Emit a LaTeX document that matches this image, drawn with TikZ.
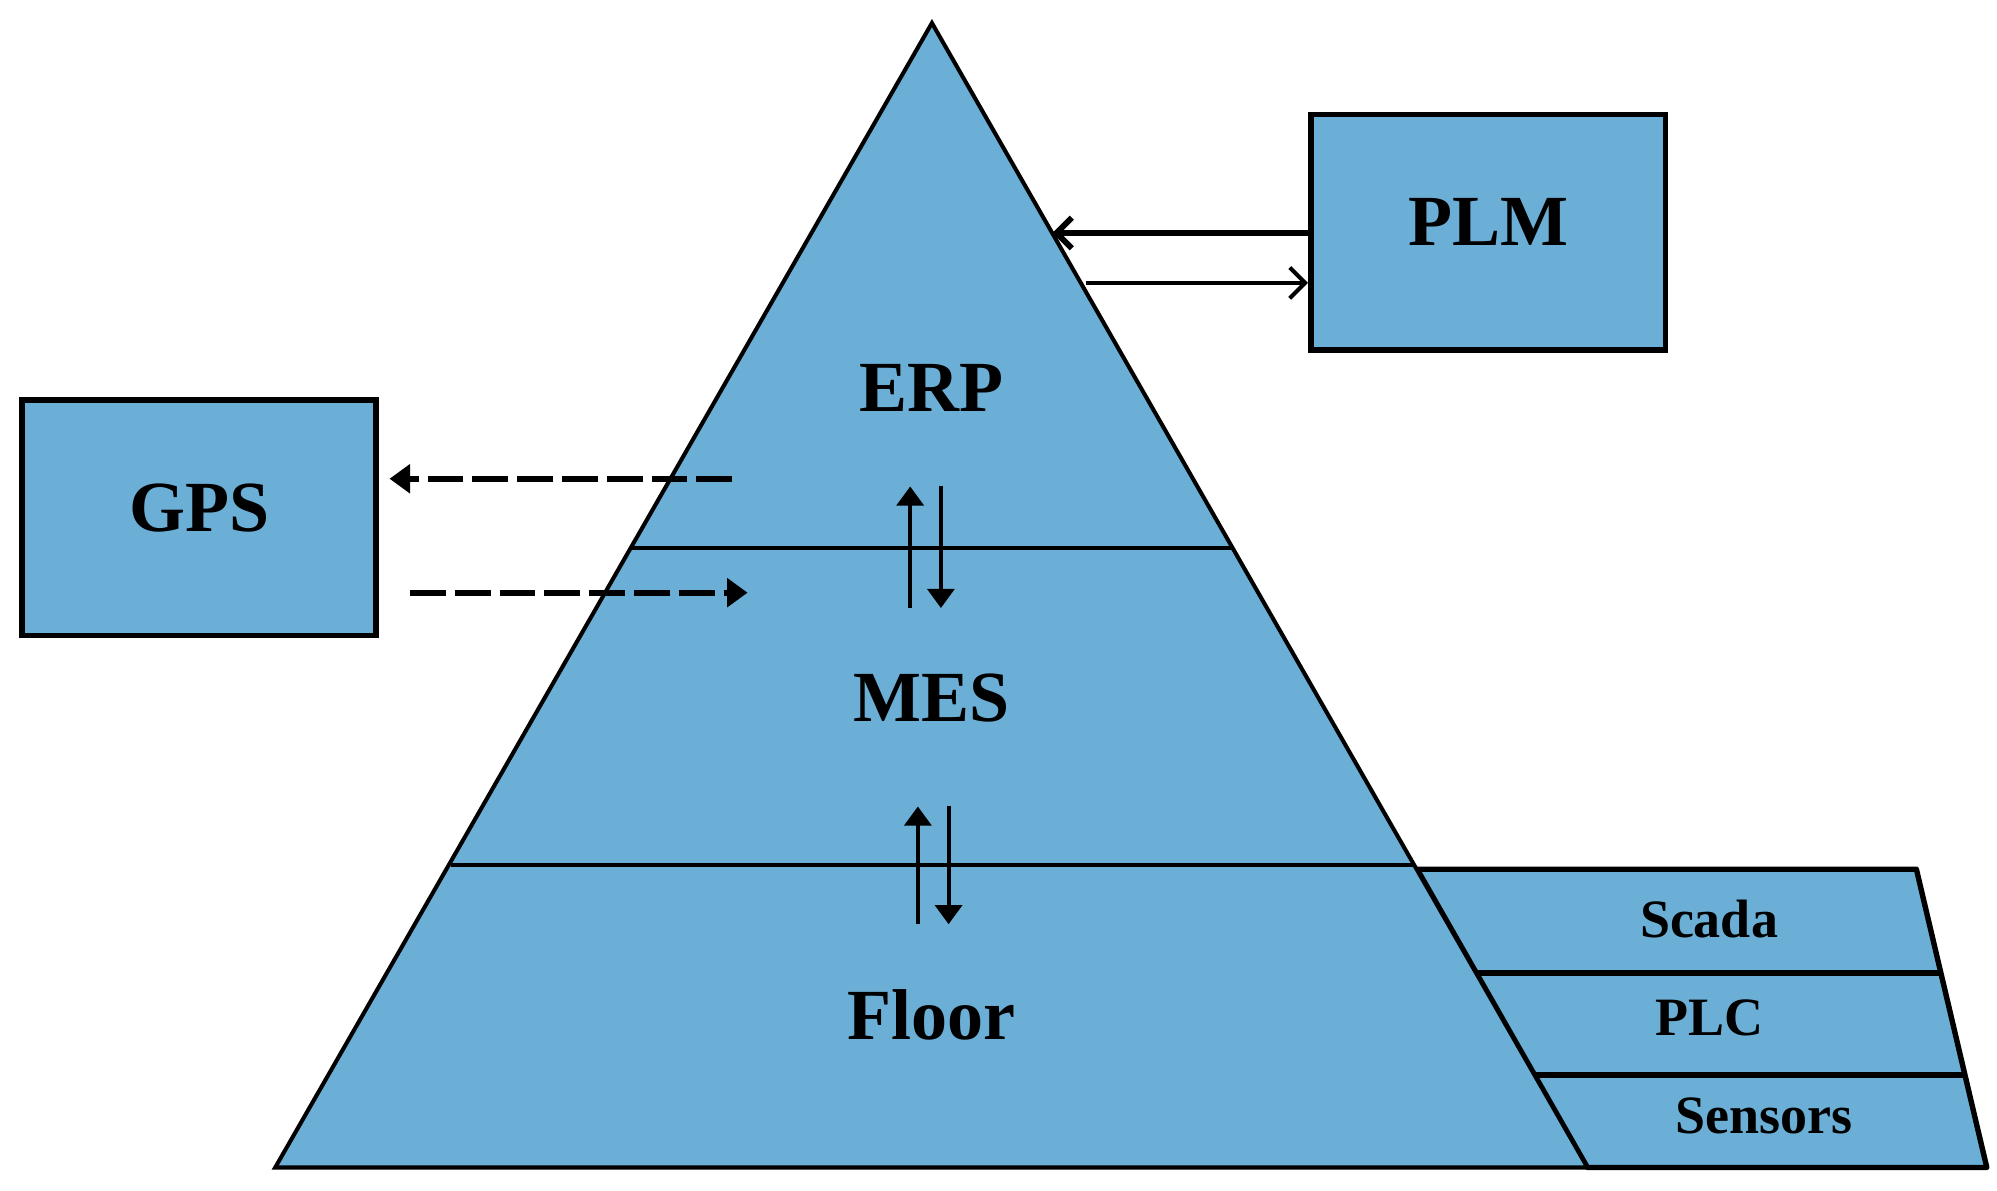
\documentclass[tikz,border=0pt]{standalone}
\usepackage{fontspec}
\setmainfont{Liberation Serif}
\usetikzlibrary{arrows.meta}
\definecolor{layerblue}{RGB}{107,175,214}

\begin{document}
\begin{tikzpicture}[
    box/.style={
      % The shape:
      rectangle,minimum width=27.7mm,minimum height=18.4mm,text depth=1.6mm,
      % Border
      line width=1.3pt,draw=black,fill=layerblue,
      font=\fontsize{16}{19}\selectfont\bfseries},
    layer/.style={font=\fontsize{16}{19}\selectfont\bfseries},
    sublayer/.style={font=\fontsize{12}{14}\selectfont\bfseries},
    flow/.style={line width=0.9pt,-{Triangle[length=1.5mm,width=2.1mm]}},
    gpsflow/.style={line width=1.4pt,dash pattern=on 2.8mm off 0.7mm,
      -{Triangle[length=1.6mm,width=2.2mm]}},
    plmflow/.style={-{Straight Barb[length=1.2mm,width=2.4mm]}}]
  \useasboundingbox (0,0) rectangle (15.6,9.3);
  % side panel
  \draw [line width=1.2pt,fill=layerblue,line join=round]
    (11.07,2.51) -- (14.97,2.51) -- (15.52,0.18) -- (12.40,0.18) -- cycle;
  \draw [line width=1.3pt] (11.53,1.70) -- (15.16,1.70);
  \draw [line width=1.3pt] (11.99,0.90) -- (15.35,0.90);
  % pyramid
  \draw [line width=0.9pt,fill=layerblue]
    (7.28,9.12) -- (12.40,0.18) -- (2.15,0.18) -- cycle;
  \draw [line width=0.9pt] (4.93,5.02) -- (9.63,5.02);
  \draw [line width=0.9pt] (3.52,2.54) -- (11.05,2.54);
  \node (erp) [layer] at (7.28,6.27) {ERP};
  \node (mes) [layer] at (7.28,3.85) {MES};
  \node (floor) [layer] at (7.28,1.37) {Floor};
  \node (scada) [sublayer] at (13.35,2.12) {Scada};
  \node (plc) [sublayer] at (13.35,1.35) {PLC};
  \node (sensors) [sublayer] at (13.78,0.58) {Sensors};
  % outside systems
  \node (plm) [box] at (11.625,7.485) {PLM};
  \node (gps) [box] at (1.555,5.255) {GPS};
  % PLM <-> ERP
  \coordinate (erp-in) at (8.22,7.48);
  \coordinate (erp-out) at (8.48,7.09);
  \draw [plmflow,line width=1.3pt] (plm.west |- erp-in) to (erp-in);
  \draw [plmflow,line width=0.9pt] (erp-out) to (plm.west |- erp-out);
  % GPS <-> pyramid
  \coordinate (gps-from) at (5.72,5.56);
  \coordinate (gps-to) at (5.84,4.67);
  \draw [gpsflow] (gps-from) to ([xshift=0.8mm]gps.east |- gps-from);
  \draw [gpsflow] ([xshift=2.4mm]gps.east |- gps-to) to (gps-to);
  % between layers
  \coordinate (erp-low) at (7.11,4.55);
  \coordinate (erp-up) at (7.11,5.50);
  \coordinate (mes-up) at (7.35,5.50);
  \coordinate (mes-low) at (7.35,4.55);
  \draw [flow] (erp-low) to (erp-up);
  \draw [flow] (mes-up) to (mes-low);
  \coordinate (floor-low) at (7.17,2.08);
  \coordinate (floor-up) at (7.17,3.00);
  \coordinate (mes-top) at (7.41,3.00);
  \coordinate (mes-bot) at (7.41,2.08);
  \draw [flow] (floor-low) to (floor-up);
  \draw [flow] (mes-top) to (mes-bot);
\end{tikzpicture}
\end{document}
